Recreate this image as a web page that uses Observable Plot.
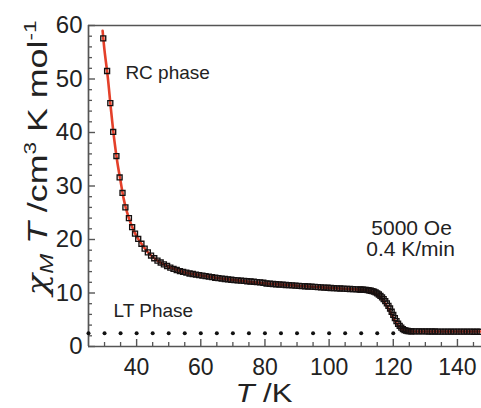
<!DOCTYPE html>
<html><head><meta charset="utf-8">
<script src="https://cdn.jsdelivr.net/npm/d3@7"></script>
<script src="https://cdn.jsdelivr.net/npm/@observablehq/plot@0.6"></script>
<style>body{margin:0;background:#fff;} #chart{width:481px;height:408px;overflow:hidden;}</style>
</head><body><div id="chart"></div>
<script>
// measured squares (T / K)
const dataT = [29.6,30.8,31.8,32.7,33.7,34.7,35.6,36.5,37.6,38.6,39.5,40.5,41.5,42.5,
43.5,44.5,45.5,46.5,47.5,48.5,49.5,50.5,51.5,52.5,53.5,54.5,55.5,56.5,57.5,58.5,59.5,
60.5,61.5,62.5,63.5,64.5,65.5,66.5,67.5,68.5,69.5,70.5,71.5,72.5,73.5,74.5,75.5,76.5,77.5,78.5,79.5,
80.5,81.5,82.5,83.5,84.5,85.5,86.5,87.5,88.5,89.5,90.5,91.5,92.5,93.5,94.5,95.5,96.5,97.5,98.5,99.5,
100.5,101.5,102.5,103.5,104.5,105.5,106.5,107.5,108.5,109.5,
110,110.5,111,111.5,112,112.5,113,113.5,114,114.5,115,115.5,116,116.5,117,117.5,118,118.5,119,119.5,
120,120.5,121,121.5,122,122.5,123,123.5,124,124.5,125,125.5,126,
127,128,129,130,131,132,133,134,135,136,137,138,139,140,141,142,143,144,145,146,147];
// measured chi_M T (cm3 K mol-1)
const dataChiT = [57.6,51.5,45.5,40.1,35.6,31.6,28.7,26.0,24.0,22.3,21.1,20.1,19.2,18.3,
17.6,17.0,16.5,16.05,15.7,15.35,15.05,14.75,14.5,14.3,14.1,13.95,13.8,13.65,13.55,13.45,13.35,
13.25,13.15,13.05,12.95,12.85,12.78,12.7,12.62,12.55,12.48,12.42,12.36,12.3,12.25,12.2,12.15,12.1,12.04,11.98,11.92,
11.78,11.73,11.68,11.63,11.59,11.55,11.5,11.46,11.42,11.38,11.34,11.3,11.26,11.22,11.18,11.14,11.1,11.06,11.02,10.98,
10.94,10.9,10.87,10.84,10.81,10.78,10.75,10.72,10.69,10.66,
10.64,10.62,10.6,10.57,10.53,10.48,10.42,10.34,10.24,10.1,9.93,9.72,9.47,9.18,8.85,8.48,8.06,7.6,7.1,6.5,
5.9,5.3,4.75,4.25,3.85,3.52,3.25,3.07,2.96,2.9,2.86,2.84,2.83,
2.82,2.82,2.81,2.81,2.8,2.8,2.8,2.79,2.79,2.79,2.78,2.78,2.78,2.78,2.77,2.77,2.77,2.77,2.76,2.76,2.76];
// red fit curve
const fitT = [29.4,30,31,32,33,34,35,36,37,38,39,40,42,44,46,48,50,55,60,65,70,80,90,100,105,110,112,113,114,115,116,117,118,119,120,121,122,123,124,125,127,130,140,147.5];
const fitChiT = [59.0,55.3,50.4,44.3,38.8,34.4,30.9,27.5,25.1,23.3,21.8,20.6,18.8,17.3,16.25,15.5,14.9,13.85,13.3,12.8,12.45,11.8,11.36,10.96,10.8,10.6,10.45,10.3,10.05,9.7,9.2,8.5,7.6,6.5,5.4,4.4,3.6,3.1,2.9,2.83,2.8,2.8,2.8,2.8];
// LT phase dotted series
const ltT = [25,30,35,40,45,50,55,60,65,70,75,80,85,90,95,100,105,110,115,120];
const ltChiT = [2.5,2.5,2.5,2.5,2.5,2.5,2.5,2.5,2.5,2.5,2.5,2.5,2.5,2.5,2.5,2.5,2.5,2.5,2.5,2.5];
// ticks
const yMajorTicks = [0,10,20,30,40,50,60];
const yMinorTicks = [2,4,6,8,12,14,16,18,22,24,26,28,32,34,36,38,42,44,46,48,52,54,56,58];
const xMajorTicks = [40,60,80,100,120,140];
const xMinorTicks = [30,35,45,50,55,65,70,75,85,90,95,105,110,115,125,130,135,145];
const labels = ["RC phase","LT Phase","5000 Oe","0.4 K/min"];

const data = dataT.map((t,i)=>({T:t, v:dataChiT[i]}));
const fit = fitT.map((t,i)=>({T:t, v:fitChiT[i]}));
const lt = ltT.map((t,i)=>({T:t, v:ltChiT[i]}));

const font = '"Liberation Sans", Arial, Helvetica, sans-serif';
const ink = "#222";
const axisColor = "#555";
const W = 481, H = 408, mL = 88, mR = 0, mT = 25, mB = 62;
const pw = W - mL - mR, ph = H - mT - mB;

const plot = Plot.plot({
  width: W, height: H,
  marginLeft: mL, marginRight: mR, marginTop: mT, marginBottom: mB,
  x: {domain: [25, 147.5]},
  y: {domain: [0, 60]},
  style: {fontFamily: font, background: "#fff", color: ink},
  marks: [
    Plot.tickY(yMinorTicks, {y: d=>d, insetRight: pw-4, stroke: axisColor, strokeWidth: 1.3}),
    Plot.tickY(yMajorTicks, {y: d=>d, insetRight: pw-7, stroke: axisColor, strokeWidth: 1.4}),
    Plot.tickX(xMinorTicks, {x: d=>d, insetTop: ph-4, stroke: axisColor, strokeWidth: 1.3}),
    Plot.tickX(xMajorTicks, {x: d=>d, insetTop: ph-7, stroke: axisColor, strokeWidth: 1.4}),
    Plot.ruleY([0, 60], {stroke: axisColor, strokeWidth: 1.7}),
    Plot.ruleX([25], {stroke: axisColor, strokeWidth: 1.7}),
    Plot.axisY({ticks: yMajorTicks, tickSize: 0, tickPadding: 6, fontSize: 24, label: null, fill: ink}),
    Plot.axisX({ticks: xMajorTicks, tickSize: 0, tickPadding: 12, fontSize: 23, label: null, fill: ink}),
    Plot.dot(lt, {x: "T", y: "v", r: 2, fill: "#111"}),
    Plot.line(fit, {x: "T", y: "v", stroke: "#e4402a", strokeWidth: 2.6, curve: "catmull-rom"}),
    Plot.dot(data, {x: "T", y: "v", symbol: "square", r: 2.8, stroke: "#161010", strokeWidth: 1.35, fill: "none"}),
    Plot.text([labels[0]], {x: 36.5, y: 51.2, text: d=>d, textAnchor: "start", fontSize: 19, fill: ink}),
    Plot.text([labels[1]], {x: 32.8, y: 6.7, text: d=>d, textAnchor: "start", fontSize: 19, fill: ink}),
    Plot.text([labels[2]], {x: 125.7, y: 22.1, text: d=>d, textAnchor: "middle", fontSize: 21, fill: ink}),
    Plot.text([labels[3]], {x: 125.4, y: 18.1, text: d=>d, textAnchor: "middle", fontSize: 21, fill: ink})
  ]
});
document.getElementById("chart").appendChild(plot);

const svg = d3.select(plot);
// y axis title
const yt = svg.append("text")
  .attr("transform", "translate(47,158) rotate(-90)")
  .attr("text-anchor", "middle")
  .attr("font-family", font).attr("font-size", 27).attr("fill", ink)
  .attr("textLength", 275).attr("lengthAdjust", "spacingAndGlyphs");
yt.append("tspan").attr("font-style", "italic").attr("font-family", '"DejaVu Serif", serif').text("χ");
yt.append("tspan").attr("font-style", "italic").attr("font-size", 18).attr("dy", 6).text("M");
yt.append("tspan").attr("font-style", "italic").attr("dy", -6).text(" T");
yt.append("tspan").text(" /cm");
yt.append("tspan").attr("font-size", 17).attr("dy", -11).text("3");
yt.append("tspan").attr("dy", 11).text(" K mol");
yt.append("tspan").attr("font-size", 17).attr("dy", -11).text("-1");
// x axis title
const xt = svg.append("text")
  .attr("x", 264).attr("y", 402)
  .attr("font-family", font).attr("font-size", 25).attr("fill", ink)
  .attr("textLength", 57).attr("lengthAdjust", "spacingAndGlyphs");
xt.append("tspan").attr("font-style", "italic").text("T");
xt.append("tspan").text(" /K");
</script>
</body></html>
